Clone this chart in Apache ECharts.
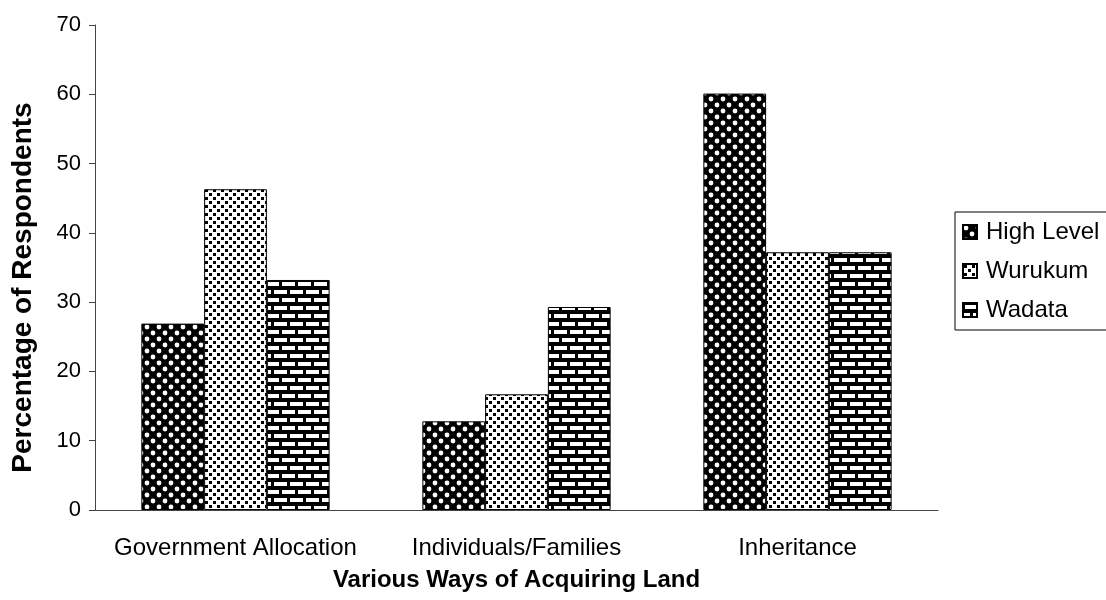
<!DOCTYPE html>
<html>
<head>
<meta charset="utf-8">
<script src="https://cdn.jsdelivr.net/npm/echarts@6/dist/echarts.min.js"></script>
<style>
  html, body { margin: 0; padding: 0; background: #fff; }
  #mychart { width: 1106px; height: 600px; }
</style>
</head>
<body>
<div id="mychart"></div>
<script>
// data
var categories = ['Government Allocation', 'Individuals/Families', 'Inheritance'];
var seriesNames = ['High Level', 'Wurukum', 'Wadata'];
var highLevel = [26.9, 12.8, 60.1];
var wurukum = [46.3, 16.7, 37.2];
var wadata = [33.2, 29.3, 37.2];
var yTicks = [0, 10, 20, 30, 40, 50, 60, 70];

// fill patterns like the old excel ones
function makeTile(w, h, draw) {
  var c = document.createElement('canvas');
  c.width = w; c.height = h;
  draw(c.getContext('2d'));
  return c;
}
var dotsTile = makeTile(12, 12, function (ctx) {
  ctx.fillStyle = '#000';
  ctx.fillRect(0, 0, 12, 12);
  ctx.fillStyle = '#fff';
  ctx.beginPath(); ctx.arc(3, 3, 2.4, 0, Math.PI * 2); ctx.fill();
  ctx.beginPath(); ctx.arc(9, 9, 2.4, 0, Math.PI * 2); ctx.fill();
});
var speckTile = makeTile(8, 8, function (ctx) {
  ctx.fillStyle = '#fff';
  ctx.fillRect(0, 0, 8, 8);
  ctx.fillStyle = '#000';
  ctx.fillRect(1, 1, 3, 3);
  ctx.fillRect(5, 5, 3, 3);
});
var brickTile = makeTile(16, 16, function (ctx) {
  ctx.fillStyle = '#000';
  ctx.fillRect(0, 0, 16, 16);
  ctx.fillStyle = '#fff';
  ctx.fillRect(2, 2, 13, 4);
  ctx.fillRect(10, 10, 6, 4);
  ctx.fillRect(0, 10, 7, 4);
});
var fills = [
  { image: dotsTile, repeat: 'repeat' },
  { image: speckTile, repeat: 'repeat' },
  { image: brickTile, repeat: 'repeat' }
];
var values = [highLevel, wurukum, wadata];

var series = [];
for (var i = 0; i < seriesNames.length; i++) {
  series.push({
    name: seriesNames[i],
    type: 'bar',
    barGap: '0%',
    barCategoryGap: '33%',
    itemStyle: { color: fills[i], borderColor: '#000', borderWidth: 1 },
    emphasis: { disabled: true },
    data: values[i]
  });
}

var myChart = echarts.init(document.getElementById('mychart'));
var option = {
  backgroundColor: '#fff',
  animation: false,
  textStyle: { fontFamily: 'Liberation Sans, Arial, sans-serif', color: '#000' },
  grid: { left: 95, right: 168, top: 25, bottom: 90, outerBoundsMode: 'none', containLabel: false },
  legend: {
    orient: 'vertical',
    left: 955,
    top: 212,
    padding: [8, 60, 8, 7],
    itemGap: 15,
    itemWidth: 14,
    itemHeight: 14,
    icon: 'rect',
    borderColor: '#000',
    borderWidth: 1,
    borderRadius: 0,
    backgroundColor: '#fff',
    textStyle: { fontSize: 24, color: '#000', padding: [0, 0, 0, 4] },
    data: seriesNames
  },
  xAxis: {
    type: 'category',
    data: categories,
    axisLine: { lineStyle: { color: '#444', width: 1 } },
    axisTick: { length: 6, lineStyle: { color: '#444' } },
    axisLabel: { fontSize: 24, color: '#000', margin: 26, interval: 0 },
    name: 'Various Ways of Acquiring Land',
    nameLocation: 'middle',
    nameGap: 58,
    nameTextStyle: { fontSize: 24, fontWeight: 'bold', color: '#000' }
  },
  yAxis: {
    type: 'value',
    min: yTicks[0],
    max: yTicks[yTicks.length - 1],
    interval: 10,
    splitLine: { show: false },
    axisLine: { show: true, lineStyle: { color: '#444', width: 1 } },
    axisTick: { show: true, length: 6, lineStyle: { color: '#444' } },
    axisLabel: { fontSize: 22, color: '#000', margin: 14 },
    name: 'Percentage of Respondents',
    nameLocation: 'middle',
    nameGap: 58,
    nameTextStyle: { fontSize: 28, fontWeight: 'bold', color: '#000', padding: [0, 40, 0, 0] }
  },
  series: series
};
myChart.setOption(option);
</script>
</body>
</html>
